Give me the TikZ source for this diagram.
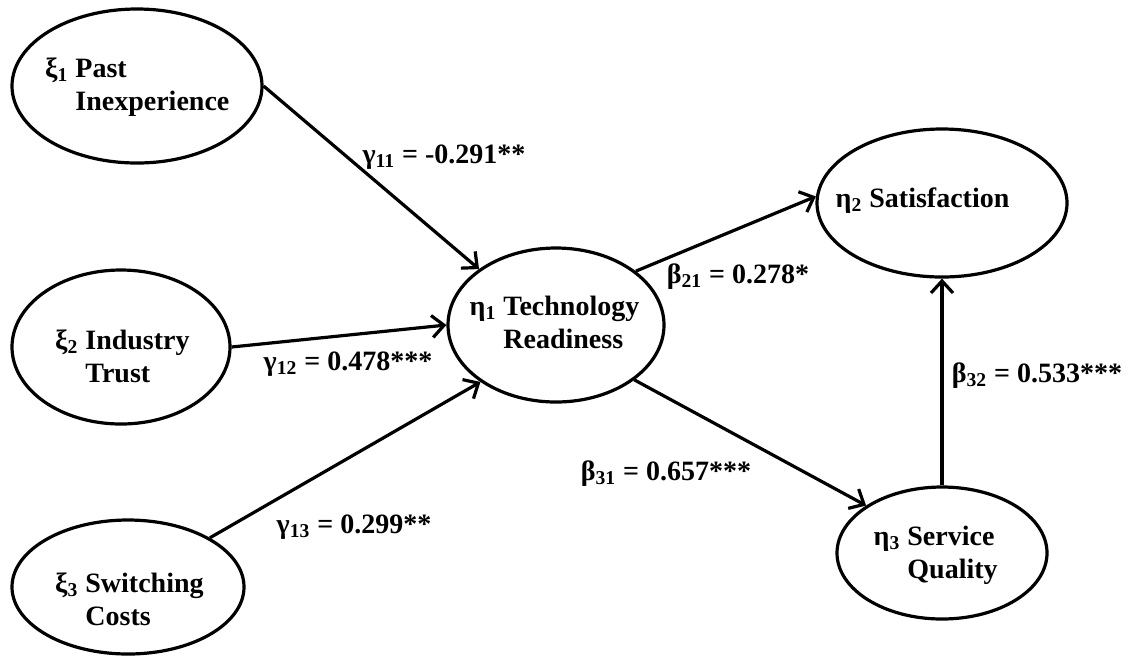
\documentclass[tikz,border=0pt]{standalone}
\usepackage{fontspec}
\setmainfont{Liberation Serif}
\usetikzlibrary{arrows.meta,shapes.geometric}
\begin{document}
\begin{tikzpicture}[x=0.5pt,y=-0.5pt,
  latent/.style={draw, line width=1.6pt, ellipse, inner sep=0pt},
  lbl/.style={font=\fontsize{14}{16.5}\selectfont\bfseries, inner sep=0pt, anchor=base west},
  coef/.style={font=\fontsize{14}{16.5}\selectfont\bfseries, inner sep=0pt, anchor=base},
  conn/.style={line width=1.6pt, -{Straight Barb[length=6pt,width=11pt,line width=1.6pt]}}]
\useasboundingbox (0,0) rectangle (1128,655);
% latent variables
\node[latent, minimum width=125pt, minimum height=77pt] (xi1) at (137,86) {};
\node[latent, minimum width=109pt, minimum height=77pt] (xi2) at (121,347) {};
\node[latent, minimum width=116pt, minimum height=67pt] (xi3) at (128,587) {};
\node[latent, minimum width=108pt, minimum height=77pt] (eta1) at (556,325) {};
\node[latent, minimum width=125pt, minimum height=74pt] (eta2) at (942,203) {};
\node[latent, minimum width=105pt, minimum height=66pt] (eta3) at (942,553) {};
% texts
\node[lbl] (t1) at (75,77) {\begin{tabular}[t]{@{}l@{}}\llap{ξ\textsubscript{1}\ }Past\\Inexperience\end{tabular}};
\node[lbl] (t2) at (85,349) {\begin{tabular}[t]{@{}l@{}}\llap{ξ\textsubscript{2}\ }Industry\\Trust\end{tabular}};
\node[lbl] (t3) at (85,592) {\begin{tabular}[t]{@{}l@{}}\llap{ξ\textsubscript{3}\ }Switching\\Costs\end{tabular}};
\node[lbl] (t4) at (503,315) {\begin{tabular}[t]{@{}l@{}}\llap{η\textsubscript{1}\ }Technology\\Readiness\end{tabular}};
\node[lbl] (t5) at (869,207) {\llap{η\textsubscript{2}\ }Satisfaction};
\node[lbl] (t6) at (907,545) {\begin{tabular}[t]{@{}l@{}}\llap{η\textsubscript{3}\ }Service\\Quality\end{tabular}};
% paths
\draw[conn] (xi1.east) -- (eta1.144);
\draw[conn] (xi2.east) -- (eta1.west);
\draw[conn] (xi3.31) -- (eta1.217);
\draw[conn] (eta1.34) -- (eta2.177);
\draw[conn] (eta1.325) -- (eta3.148);
\draw[conn] (eta3.north) -- (eta2.south);
% coefficients
\node[coef] (g11) at (444,163) {γ\textsubscript{11} = -0.291**};
\node[coef] (g12) at (348,370) {γ\textsubscript{12} = 0.478***};
\node[coef] (g13) at (354,533) {γ\textsubscript{13} = 0.299**};
\node[coef] (b21) at (738,283) {β\textsubscript{21} = 0.278*};
\node[coef] (b31) at (666,480) {β\textsubscript{31} = 0.657***};
\node[coef] (b32) at (1037,382) {β\textsubscript{32} = 0.533***};
\end{tikzpicture}
\end{document}
